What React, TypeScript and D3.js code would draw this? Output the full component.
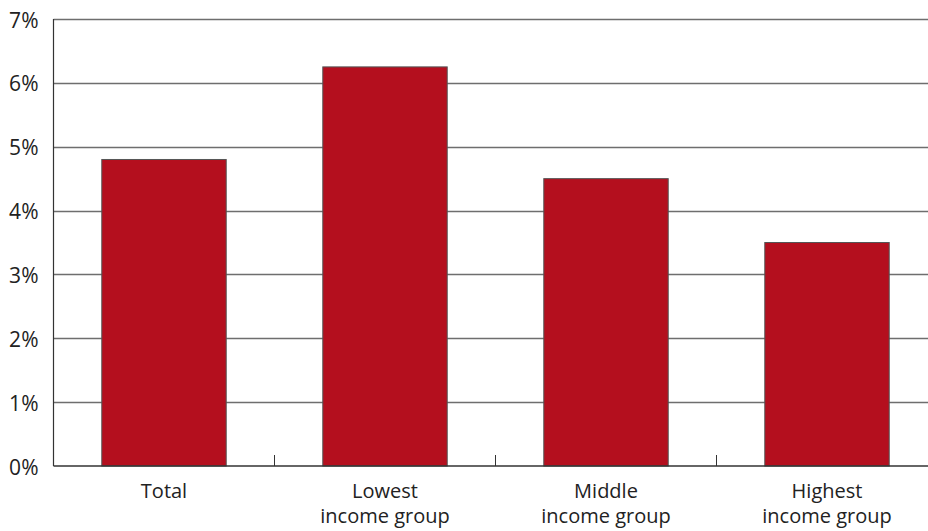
import React from "react";
import * as d3 from "d3";

const categories: string[][] = [["Total"], ["Lowest", "income group"], ["Middle", "income group"], ["Highest", "income group"]];
const values: number[] = [4.8, 6.25, 4.5, 3.5];
const yTicks: number[] = [0, 1, 2, 3, 4, 5, 6, 7];

export default function App() {
  const W = 928, H = 531;
  const left = 53.5, right = 937.5, top = 19, bottom = 466;
  const x = d3.scaleBand<number>().domain(d3.range(values.length)).range([left, right]).paddingInner(0.437).paddingOuter(0.2185);
  const bandStep = (right - left) / values.length;
  const y = d3.scaleLinear().domain([0, 7]).range([bottom, top]);
  const font = "'Open Sans', 'Noto Sans', sans-serif";
  return (
    <svg width={W} height={H} style={{ position: "absolute", left: 0, top: 0 }}>
      <rect x={0} y={0} width={W} height={H} fill="#fff" />
      {yTicks.filter(t => t > 0).map(t => (
        <line key={t} x1={left} x2={W} y1={Math.round(y(t)) + 0.5} y2={Math.round(y(t)) + 0.5} stroke="#6e6e6e" strokeWidth={1.5} />
      ))}
      {values.map((v, i) => (
        <rect key={i} x={x(i)} y={y(v)} width={x.bandwidth()} height={bottom - y(v)} fill="#b40f1e" stroke="#555" strokeWidth={1} />
      ))}
      {d3.range(1, values.length).map(i => (
        <line key={i} x1={left + i * bandStep} x2={left + i * bandStep} y1={bottom} y2={bottom - 11} stroke="#333" strokeWidth={1} />
      ))}
      <line x1={left} x2={left} y1={top} y2={bottom} stroke="#333" strokeWidth={1.2} />
      <line x1={left} x2={W} y1={bottom} y2={bottom} stroke="#333" strokeWidth={1.5} />
      {yTicks.map(t => (
        <text key={t} x={38.5} y={y(t) + 8.5} textAnchor="end" fontFamily={font} fontSize={21} fill="#222">{t}%</text>
      ))}
      {categories.map((lines, i) => (
        <text key={i} textAnchor="middle" fontFamily={font} fontSize={20} fill="#222">
          {lines.map((l, j) => (
            <tspan key={j} x={left + (i + 0.5) * bandStep} y={498 + j * 25}>{l}</tspan>
          ))}
        </text>
      ))}
    </svg>
  );
}
